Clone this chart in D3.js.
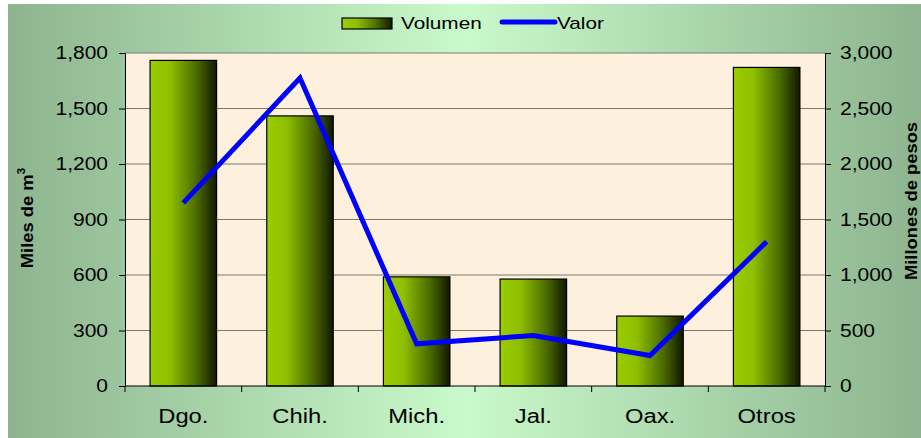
<!DOCTYPE html>
<html>
<head>
<meta charset="utf-8">
<script src="https://cdn.jsdelivr.net/npm/d3@7"></script>
<style>
html,body{margin:0;padding:0;background:#fff;}
svg{display:block;font-family:Arial,"Liberation Sans",sans-serif;}
</style>
</head>
<body>
<svg id="chart" width="921" height="438"></svg>
<script>
const categories = ["Dgo.", "Chih.", "Mich.", "Jal.", "Oax.", "Otros"];
const volumen = [1760, 1460, 590, 578, 378, 1722];
const valor = [1650, 2775, 380, 455, 275, 1300];
const leftTicks = [0, 300, 600, 900, 1200, 1500, 1800];
const rightTicks = [0, 500, 1000, 1500, 2000, 2500, 3000];

const svg = d3.select("#chart");
const W = 921, H = 438;
const m = {left: 125, right: 825, top: 53, bottom: 386};
const FONT = "Arial, 'Liberation Sans', sans-serif";

function stretch(sel, k) {
  sel.each(function() {
    const w = this.getComputedTextLength();
    this.setAttribute("textLength", w * k);
    this.setAttribute("lengthAdjust", "spacingAndGlyphs");
  });
}

const defs = svg.append("defs");
const bg = defs.append("linearGradient").attr("id", "bg").attr("x1", "0").attr("x2", "1").attr("y1", "0").attr("y2", "0");
bg.append("stop").attr("offset", "0").attr("stop-color", "#8db48e");
bg.append("stop").attr("offset", "0.5").attr("stop-color", "#c9facb");
bg.append("stop").attr("offset", "1").attr("stop-color", "#8db48e");
const bar = defs.append("linearGradient").attr("id", "bar").attr("x1", "0").attr("x2", "1").attr("y1", "0").attr("y2", "0");
bar.append("stop").attr("offset", "0").attr("stop-color", "#9acd00");
bar.append("stop").attr("offset", "0.3").attr("stop-color", "#8fbf00");
bar.append("stop").attr("offset", "0.7").attr("stop-color", "#4a6a00");
bar.append("stop").attr("offset", "1").attr("stop-color", "#111800");

svg.append("rect").attr("x", 8).attr("y", 4).attr("width", W - 8).attr("height", H - 4).attr("fill", "url(#bg)");

const x = d3.scaleBand().domain(categories).range([m.left, m.right]).paddingInner(0).paddingOuter(0);
const yL = d3.scaleLinear().domain([0, 1800]).range([m.bottom, m.top]);
const yR = d3.scaleLinear().domain([0, 3000]).range([m.bottom, m.top]);

// plot area
svg.append("rect").attr("x", m.left).attr("y", m.top).attr("width", m.right - m.left).attr("height", m.bottom - m.top).attr("fill", "#fdf0dc");

// gridlines
svg.append("g").selectAll("line").data(leftTicks.filter(d => d > 0)).join("line")
  .attr("x1", m.left).attr("x2", m.right).attr("y1", d => yL(d)).attr("y2", d => yL(d))
  .attr("stroke", "#7a7a70").attr("stroke-width", 1);

// bars
const bw = x.bandwidth() * 0.57;
svg.append("g").selectAll("rect").data(categories).join("rect")
  .attr("x", (d) => x(d) + (x.bandwidth() - bw) / 2)
  .attr("y", (d, i) => yL(volumen[i]))
  .attr("width", bw)
  .attr("height", (d, i) => yL(0) - yL(volumen[i]))
  .attr("fill", "url(#bar)").attr("stroke", "#000").attr("stroke-width", 1.2);

// axes
const axL = d3.axisLeft(yL).tickValues(leftTicks).tickSize(6).tickPadding(11).tickFormat(d3.format(","));
const gL = svg.append("g").attr("transform", `translate(${m.left},0)`).call(axL);
const axR = d3.axisRight(yR).tickValues(rightTicks).tickSize(6).tickPadding(9).tickFormat(d3.format(","));
const gR = svg.append("g").attr("transform", `translate(${m.right},0)`).call(axR);
const axB = d3.axisBottom(x).tickSize(0).tickPadding(23);
const gB = svg.append("g").attr("transform", `translate(0,${m.bottom})`).call(axB);
[gL, gR, gB].forEach(g => {
  g.attr("font-size", null).attr("font-family", null);
  g.select(".domain").attr("stroke", "#000");
  g.selectAll(".tick line").attr("stroke", "#000");
  g.selectAll("text").attr("fill", "#000").style("font-family", FONT);
});
gL.selectAll("text").style("font-size", "17.5px");
gR.selectAll("text").style("font-size", "17.5px");
gB.selectAll("text").style("font-size", "19.5px");
stretch(gL.selectAll("text"), 1.2);
stretch(gR.selectAll("text"), 1.2);
stretch(gB.selectAll("text"), 1.22);
gB.select(".domain").attr("d", `M${m.left},0H${m.right}`);
// bottom tick marks at band boundaries
gB.append("g").selectAll("line").data(d3.range(categories.length + 1)).join("line")
  .attr("x1", i => m.left + i * x.step()).attr("x2", i => m.left + i * x.step())
  .attr("y1", 0).attr("y2", 6).attr("stroke", "#000");

// line
const line = d3.line().x((d, i) => x(categories[i]) + x.bandwidth() / 2).y(d => yR(d));
svg.append("path").datum(valor).attr("d", line).attr("fill", "none")
  .attr("stroke", "#0000ff").attr("stroke-width", 5).attr("stroke-linejoin", "miter");

// axis titles
const tl = svg.append("text").attr("transform", "translate(33,218) rotate(-90) scale(1.08,1)")
  .attr("text-anchor", "middle").style("font-size", "17px").attr("font-weight", "bold");
tl.append("tspan").text("Miles de m");
tl.append("tspan").text("3").style("font-size", "11px").attr("dy", -8);
svg.append("text").attr("transform", "translate(917,201) rotate(-90) scale(1.08,1)")
  .attr("text-anchor", "middle").style("font-size", "17px").attr("font-weight", "bold").text("Millones de pesos");

// legend
const lg = svg.append("g");
lg.append("rect").attr("x", 342).attr("y", 18).attr("width", 50).attr("height", 11)
  .attr("fill", "url(#bar)").attr("stroke", "#000").attr("stroke-width", 1.2);
const t1 = lg.append("text").attr("x", 401).attr("y", 29).style("font-size", "17px").text("Volumen");
lg.append("line").attr("x1", 502).attr("x2", 555).attr("y1", 22).attr("y2", 22)
  .attr("stroke", "#0000ff").attr("stroke-width", 5).attr("stroke-linecap", "round");
const t2 = lg.append("text").attr("x", 557).attr("y", 29).style("font-size", "17px").text("Valor");
stretch(t1, 1.22);
stretch(t2, 1.22);
</script>
</body>
</html>
